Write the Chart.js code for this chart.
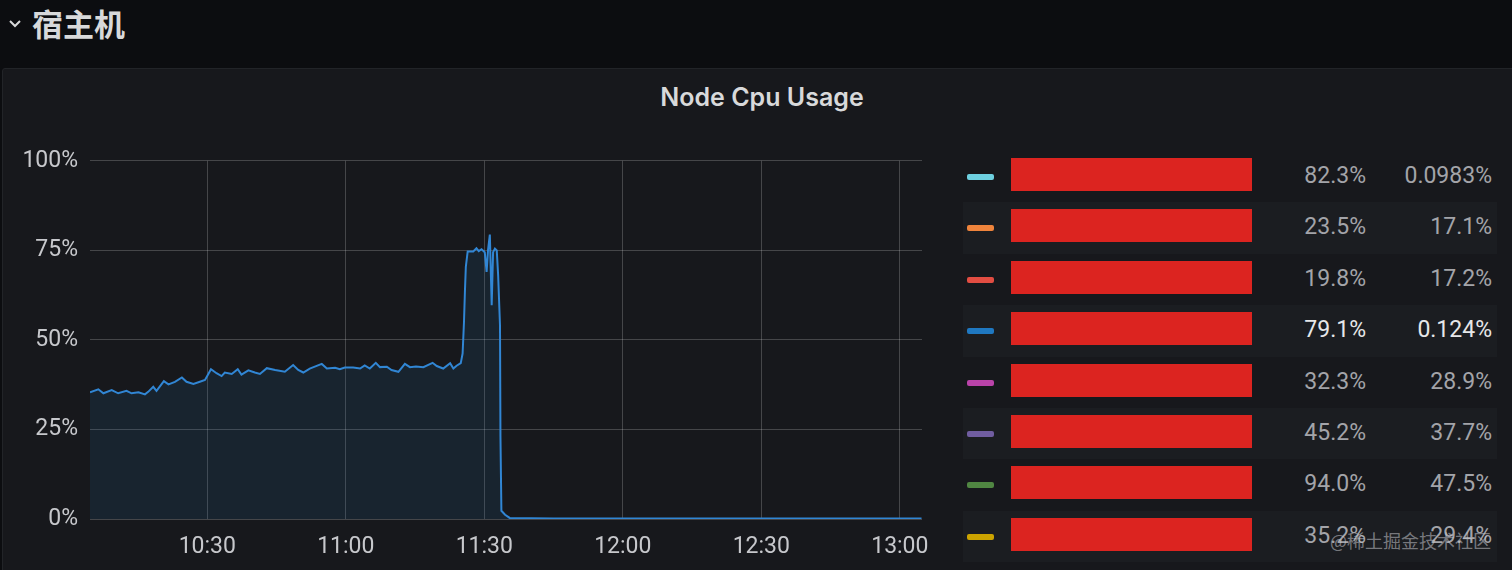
<!DOCTYPE html>
<html>
<head>
<meta charset="utf-8">
<script src="https://cdn.jsdelivr.net/npm/chart.js@4.4.1/dist/chart.umd.min.js"></script>
<style>
  body { margin: 0; width: 1512px; height: 570px; background: #0c0d10; overflow: hidden; font-family: Roboto, "Noto Sans", sans-serif; position: relative; }
  #header { position: absolute; left: 8px; top: 0px; height: 44px; display: flex; align-items: center; color: #d8d9da; font: bold 31px "Noto Sans CJK SC", sans-serif; }
  #header svg { margin-right: 10px; margin-top: 4px; }
  #panel { position: absolute; left: 2px; top: 68px; width: 1520px; height: 520px; background: #17181c; border: 1px solid #222428; border-radius: 3px; }
  #titulo { position: absolute; left: 0; top: 82px; width: 1524px; text-align: center; color: #d8d9da; font: 600 25px Inter, Roboto, sans-serif; }
  #wrap { position: absolute; left: 0; top: 135px; width: 960px; height: 435px; }
  #legenda { position: absolute; left: 963px; top: 151px; width: 534px; }
  .linha { position: relative; height: 51.4px; }
  .linha.alt { background: #1b1d21; }
  .cor { position: absolute; left: 4px; top: 23px; width: 27px; height: 6px; border-radius: 2px; }
  .nome { position: absolute; left: 48px; top: 7px; width: 241px; height: 33px; background: #dc2420; }
  .v1, .v2 { position: absolute; top: 11px; font-size: 23px; color: #a3a4a9; text-align: right; }
  .v1 { right: 131px; }
  .v2 { right: 5px; }
  .ativo .v1, .ativo .v2 { color: #e6e7e9; }
  #marca { position: absolute; left: 1330px; top: 527px; font: 18px "Noto Sans CJK SC", sans-serif; color: rgba(200,200,205,0.55); }
</style>
</head>
<body>
<div id="header">
  <svg width="14" height="10" viewBox="0 0 14 10"><path d="M2 2 L7 7 L12 2" stroke="#d8d9da" stroke-width="2" fill="none"/></svg>
  宿主机
</div>
<div id="panel"></div>
<div id="titulo">Node Cpu Usage</div>
<div id="wrap"><canvas id="grafico"></canvas></div>
<div id="legenda"></div>
<div id="marca">@稀土掘金技术社区</div>
<script>
// minutos desde 00:00
const cpuTimes = [
  604.6, 606.4, 607.5, 609.3, 610.7, 612.5, 613.6, 615.1, 616.5, 617.2,
  618.3, 619.0, 620.6, 621.6, 623.0, 624.5, 625.5, 627.0, 628.4, 629.5,
  629.9, 630.8, 632.0, 633.1, 633.8, 635.3, 636.6, 637.4, 638.9, 640.3,
  641.4, 642.9, 644.7, 646.8, 648.6, 649.7, 650.8, 652.2, 654.8, 655.9,
  657.7, 658.7, 659.8, 661.6, 663.1, 664.1, 665.2, 666.5, 667.4, 668.9,
  669.9, 671.4, 672.8, 673.9, 675.2, 676.8, 678.8, 679.7, 681.1, 682.6,
  683.3, 684.0, 684.9, 685.3, 685.6, 685.8, 686.0, 686.4, 687.6, 688.3,
  688.8, 689.4, 690.1, 690.5, 690.8, 691.2, 691.6, 691.9, 692.3, 692.7,
  693.0, 693.4, 693.5, 693.7, 694.5, 695.5, 705, 720, 740, 760, 784.7
];
const cpuValues = [
  35.4, 36.2, 35.1, 36.0, 35.1, 35.8, 35.1, 35.4, 34.8, 35.5,
  36.9, 35.8, 38.5, 37.6, 38.3, 39.5, 38.3, 37.7, 38.3, 38.8,
  39.7, 41.8, 40.7, 39.9, 40.9, 40.5, 41.8, 40.3, 41.5, 40.9,
  40.5, 42.1, 41.6, 41.1, 43.0, 41.6, 40.9, 42.0, 43.3, 42.0,
  42.2, 41.8, 42.3, 42.3, 42.0, 42.9, 42.0, 43.6, 42.4, 42.5,
  41.6, 41.1, 43.3, 42.4, 42.6, 42.4, 43.6, 42.7, 42.0, 43.5,
  42.0, 42.8, 43.5, 46.2, 55.0, 63.4, 70.4, 74.7, 74.7, 75.6,
  74.8, 75.3, 74.5, 69.0, 75.0, 79.4, 59.7, 74.5, 75.5, 75.0,
  68.0, 54.0, 23.0, 2.3, 1.2, 0.3, 0.12, 0.12, 0.13, 0.12, 0.12
];
const xTickValues = [630, 660, 690, 720, 750, 780];
const yTickValues = [0, 25, 50, 75, 100];

const legendColors = ["#6ed0e0", "#ef843c", "#e24d42", "#1f78c1", "#ba43a9", "#705da0", "#508642", "#cca300"];
const maxValues = ["82.3%", "23.5%", "19.8%", "79.1%", "32.3%", "45.2%", "94.0%", "35.2%"];
const currentValues = ["0.0983%", "17.1%", "17.2%", "0.124%", "28.9%", "37.7%", "47.5%", "29.4%"];
const serieAtiva = 3;

function hora(m) {
    const h = Math.floor(m / 60);
    const mm = Math.round(m % 60);
    return h + ":" + String(mm).padStart(2, "0");
}

function montarLegenda() {
    const box = document.getElementById("legenda");
    legendColors.forEach((c, i) => {
        const row = document.createElement("div");
        row.className = "linha" + (i % 2 ? " alt" : "") + (i === serieAtiva ? " ativo" : "");
        row.innerHTML = '<div class="cor" style="background:' + c + '"></div>' +
            '<div class="nome"></div>' +
            '<div class="v1">' + maxValues[i] + '</div>' +
            '<div class="v2">' + currentValues[i] + '</div>';
        box.appendChild(row);
    });
}

function criarGrafico() {
    const ctx = document.getElementById("grafico").getContext("2d");
    const pontos = cpuTimes.map((t, i) => ({ x: t, y: cpuValues[i] }));
    const corGrade = "rgba(255,255,255,0.2)";
    const corTexto = "#c7c8cc";

    new Chart(ctx, {
        type: "line",
        data: {
            datasets: [{
                label: "cpu",
                data: pontos,
                borderColor: "#3186d4",
                backgroundColor: "rgba(31,120,193,0.12)",
                borderWidth: 2,
                pointRadius: 0,
                tension: 0,
                fill: "origin"
            }]
        },
        options: {
            responsive: true,
            maintainAspectRatio: false,
            animation: false,
            layout: { padding: { top: 10, right: 38, left: 0, bottom: 0 } },
            plugins: { legend: { display: false }, tooltip: { enabled: false } },
            scales: {
                x: {
                    type: "linear",
                    min: 604.6,
                    max: 784.8,
                    afterBuildTicks: s => { s.ticks = xTickValues.map(v => ({ value: v })); },
                    afterFit: s => { s.height = 51; },
                    grid: { color: corGrade, drawTicks: false },
                    border: { display: false },
                    ticks: { color: corTexto, font: { family: "Roboto", size: 23 }, padding: 14, maxRotation: 0, callback: v => hora(v) }
                },
                y: {
                    min: 0,
                    max: 100,
                    afterBuildTicks: s => { s.ticks = yTickValues.map(v => ({ value: v })); },
                    afterFit: s => { s.width = 90; },
                    grid: { color: corGrade, drawTicks: false },
                    border: { display: false },
                    ticks: { color: corTexto, font: { family: "Roboto", size: 23 }, padding: 12, callback: v => v + "%" }
                }
            }
        }
    });
}

montarLegenda();
criarGrafico();
</script>
</body>
</html>
